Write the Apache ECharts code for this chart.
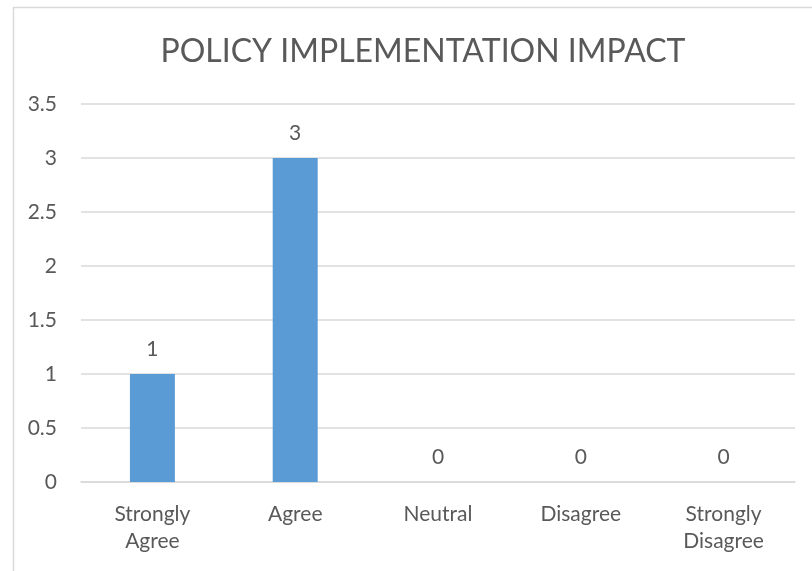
<!DOCTYPE html>
<html lang="en">
<head>
    <meta charset="UTF-8">
    <title>Policy Implementation Impact</title>
    <script type="text/javascript" src="https://cdn.jsdelivr.net/npm/echarts@6/dist/echarts.min.js"></script>
    <style>
        html, body { margin: 0; padding: 0; background: #fff; }
    </style>
</head>
<body>
    <div id="main" style="width: 812px; height: 571px;"></div>
    <script type="text/javascript">
        var categories = ['Strongly\nAgree', 'Agree', 'Neutral', 'Disagree', 'Strongly\nDisagree'];
        var counts = [1, 3, 0, 0, 0];

        var chartDom = document.getElementById('main');
        var myChart = echarts.init(chartDom);
        var textColor = '#595959';
        var fontFamily = 'Lato, "Open Sans", sans-serif';

        var option = {
            backgroundColor: '#fff',
            textStyle: { fontFamily: fontFamily },
            title: {
                text: 'POLICY IMPLEMENTATION IMPACT',
                left: 418,
                textAlign: 'center',
                top: 31,
                textStyle: {
                    color: textColor,
                    fontSize: 32,
                    fontWeight: 'normal',
                    fontFamily: fontFamily
                }
            },
            // outer chart border
            graphic: [{
                type: 'rect',
                left: 11,
                top: 5,
                shape: { width: 820, height: 580 },
                style: { fill: 'none', stroke: '#d9d9d9', lineWidth: 1.5 },
                silent: true
            }],
            grid: {
                left: 81,
                right: 17,
                top: 104,
                bottom: 89
            },
            xAxis: {
                type: 'category',
                data: categories,
                axisLine: { lineStyle: { color: '#d9d9d9', width: 1.5 } },
                axisTick: { show: false },
                axisLabel: {
                    color: textColor,
                    fontSize: 21,
                    lineHeight: 27,
                    margin: 19,
                    fontFamily: fontFamily
                }
            },
            yAxis: {
                type: 'value',
                min: 0,
                max: 3.5,
                interval: 0.5,
                axisLine: { show: false },
                axisTick: { show: false },
                splitLine: { lineStyle: { color: '#d9d9d9', width: 1.5 } },
                axisLabel: {
                    color: textColor,
                    fontSize: 21,
                    margin: 24,
                    fontFamily: fontFamily
                }
            },
            series: [{
                type: 'bar',
                data: counts,
                barWidth: 45,
                itemStyle: { color: '#5b9bd5' },
                label: {
                    show: true,
                    position: 'top',
                    distance: 14,
                    color: textColor,
                    fontSize: 21,
                    fontFamily: fontFamily
                }
            }]
        };

        option && myChart.setOption(option);
    </script>
</body>
</html>
